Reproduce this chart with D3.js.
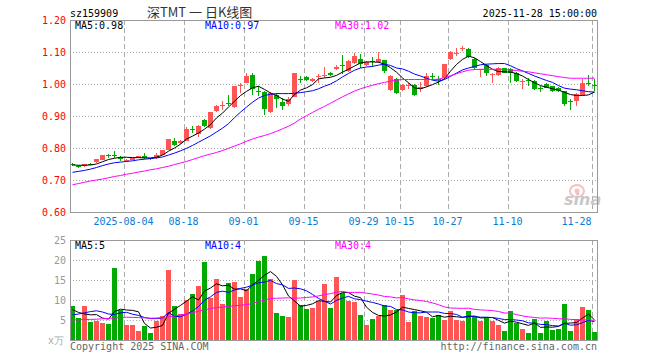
<!DOCTYPE html>
<html>
<head>
<meta charset="utf-8">
<script src="https://cdn.jsdelivr.net/npm/d3@7"></script>
<style>
  body { margin: 0; background: #fff; }
  svg text { font-family: "DejaVu Sans Mono", monospace; font-size: 10px; }
</style>
</head>
<body>
<svg width="660" height="360"></svg>
<script>
// Data =======================================================================

const dates = ["07-22","07-23","07-24","07-25","07-28","07-29","07-30","07-31","08-01",
  "08-04","08-05","08-06","08-07","08-08","08-11","08-12","08-13","08-14","08-15",
  "08-18","08-19","08-20","08-21","08-22","08-25","08-26","08-27","08-28","08-29",
  "09-01","09-02","09-03","09-04","09-05","09-08","09-09","09-10","09-11","09-12",
  "09-15","09-16","09-17","09-18","09-19","09-22","09-23","09-24","09-25","09-26",
  "09-29","09-30","10-09","10-10","10-13","10-14","10-15","10-16","10-17","10-20",
  "10-21","10-22","10-23","10-24","10-27","10-28","10-29","10-30","10-31","11-03",
  "11-04","11-05","11-06","11-07","11-10","11-11","11-12","11-13","11-14","11-17",
  "11-18","11-19","11-20","11-21","11-24","11-25","11-26","11-27","11-28"];

const open = [0.749,0.744,0.745,0.751,0.755,0.763,0.779,0.777,0.773,0.760,
  0.764,0.770,0.776,0.768,0.768,0.779,0.795,0.822,0.815,0.823,
  0.859,0.843,0.888,0.862,0.915,0.933,0.942,0.928,0.995,1.004,
  1.027,0.978,0.974,0.912,0.967,0.943,0.936,0.960,1.017,1.021,
  1.009,1.024,1.026,1.035,1.046,1.059,1.040,1.066,1.079,1.058,
  1.071,1.069,1.074,0.980,1.016,0.981,0.994,0.998,0.983,0.993,
  1.026,1.015,1.019,1.077,1.095,1.109,1.110,1.077,1.045,1.058,
  1.029,1.027,1.049,1.048,1.035,1.006,1.013,1.009,0.986,1.000,
  0.993,0.988,0.977,0.947,0.946,0.967,1.002,0.996];
const high = [0.752,0.747,0.750,0.753,0.767,0.779,0.781,0.790,0.775,0.765,
  0.769,0.776,0.783,0.770,0.783,0.794,0.828,0.830,0.825,0.865,
  0.870,0.872,0.890,0.913,0.934,0.948,0.967,0.995,1.004,1.033,
  1.035,0.993,0.977,0.974,0.972,0.957,0.958,1.034,1.025,1.024,
  1.019,1.032,1.054,1.037,1.058,1.090,1.074,1.096,1.093,1.072,
  1.085,1.100,1.076,1.027,1.018,1.000,1.004,1.000,1.007,1.035,
  1.035,1.024,1.064,1.102,1.114,1.119,1.111,1.082,1.048,1.061,
  1.035,1.053,1.051,1.050,1.037,1.015,1.020,1.011,0.994,1.002,
  0.995,0.990,0.979,0.952,0.972,1.016,1.027,1.016];
const low = [0.743,0.738,0.742,0.746,0.753,0.762,0.768,0.770,0.760,0.755,
  0.762,0.768,0.765,0.764,0.766,0.777,0.794,0.807,0.812,0.822,
  0.848,0.835,0.866,0.858,0.913,0.920,0.930,0.926,0.972,1.002,
  0.967,0.962,0.904,0.910,0.925,0.920,0.930,0.958,1.002,1.009,
  1.007,1.004,1.019,1.026,1.043,1.032,1.038,1.064,1.051,1.056,
  1.054,1.067,1.033,0.978,0.968,0.979,0.985,0.963,0.974,0.991,
  1.014,0.998,1.017,1.075,1.087,1.103,1.082,1.043,1.021,1.024,
  1.004,1.025,1.033,1.002,1.007,0.985,0.994,0.981,0.974,0.986,
  0.975,0.975,0.932,0.920,0.930,0.965,0.993,0.977];
const close = [0.747,0.742,0.749,0.749,0.766,0.778,0.777,0.774,0.765,0.764,
  0.768,0.775,0.768,0.766,0.778,0.793,0.827,0.810,0.823,0.860,
  0.857,0.870,0.870,0.912,0.932,0.935,0.940,0.993,0.997,1.025,
  0.983,0.976,0.923,0.972,0.953,0.932,0.953,1.033,1.015,1.012,
  1.017,1.026,1.028,1.028,1.054,1.057,1.072,1.087,1.061,1.070,
  1.069,1.079,1.040,1.025,0.972,0.998,0.996,0.967,0.991,1.025,
  1.024,1.013,1.063,1.100,1.097,1.111,1.084,1.051,1.046,1.035,
  1.031,1.051,1.035,1.035,1.009,1.008,1.011,0.983,0.984,0.988,
  0.977,0.977,0.939,0.945,0.970,1.004,1.001,0.994];

const ma5 = [0.747,0.746,0.746,0.747,0.750,0.757,0.764,0.768,0.771,0.771,
  0.770,0.770,0.769,0.769,0.771,0.778,0.790,0.800,0.812,0.828,
  0.837,0.847,0.859,0.873,0.894,0.909,0.928,0.946,0.964,0.977,
  0.988,0.993,0.983,0.972,0.964,0.953,0.946,0.967,0.981,0.988,
  0.998,1.016,1.019,1.021,1.027,1.037,1.046,1.056,1.066,1.069,
  1.069,1.068,1.062,1.051,1.037,1.019,1.004,0.988,0.985,0.991,
  0.998,1.006,1.016,1.040,1.061,1.077,1.087,1.082,1.070,1.058,
  1.046,1.039,1.038,1.037,1.033,1.025,1.014,1.004,0.995,0.990,
  0.985,0.981,0.974,0.967,0.964,0.964,0.966,0.975];
const ma10 = [0.724,0.727,0.730,0.734,0.739,0.745,0.750,0.754,0.756,0.758,
  0.760,0.763,0.765,0.767,0.769,0.772,0.778,0.784,0.791,0.799,
  0.808,0.818,0.828,0.838,0.850,0.862,0.876,0.895,0.912,0.928,
  0.943,0.956,0.964,0.968,0.970,0.970,0.970,0.971,0.973,0.976,
  0.979,0.985,0.993,1.000,1.010,1.022,1.033,1.043,1.050,1.053,
  1.055,1.059,1.062,1.058,1.050,1.047,1.040,1.031,1.025,1.018,
  1.012,1.009,1.014,1.024,1.034,1.044,1.050,1.055,1.060,1.062,
  1.063,1.064,1.064,1.057,1.048,1.041,1.033,1.025,1.018,1.011,
  1.005,0.995,0.987,0.984,0.982,0.979,0.976,0.975];
const ma30 = [0.685,0.689,0.693,0.697,0.700,0.703,0.707,0.711,0.714,0.718,
  0.721,0.725,0.728,0.732,0.735,0.739,0.743,0.748,0.753,0.758,
  0.764,0.770,0.776,0.781,0.786,0.792,0.799,0.806,0.813,0.821,
  0.828,0.834,0.839,0.845,0.852,0.860,0.868,0.878,0.891,0.901,
  0.911,0.921,0.930,0.940,0.950,0.960,0.969,0.978,0.985,0.991,
  0.996,1.001,1.005,1.009,1.012,1.014,1.014,1.014,1.014,1.014,
  1.014,1.015,1.020,1.026,1.032,1.038,1.043,1.045,1.046,1.046,
  1.046,1.046,1.045,1.044,1.042,1.040,1.038,1.035,1.032,1.029,
  1.026,1.023,1.020,1.018,1.018,1.018,1.018,1.018];

// volume, in 万
const volume = [8.5,5.4,8.5,4.5,4.8,4.25,4.0,18.0,7.5,3.75,
  3.75,2.25,3.5,1.7,4.75,6.0,17.5,8.5,6.5,10.0,
  11.5,13.5,19.5,10.5,15.25,9.0,14.3,14.6,10.75,12.75,
  16.5,19.8,21.1,15.25,6.8,6.0,5.75,15.0,8.75,7.7,
  8.0,9.8,14.0,8.0,15.75,11.8,9.75,9.5,6.25,3.75,
  5.25,6.0,8.75,7.5,7.5,11.25,4.5,7.25,6.0,5.75,
  5.5,6.25,5.0,7.25,5.0,4.75,7.25,5.75,4.75,5.6,
  4.75,3.75,2.25,7.25,4.25,2.75,1.75,5.25,1.75,4.75,
  2.5,2.75,9.0,2.25,5.25,8.25,7.5,2.0];
const vma5 = [7.6,6.9,6.5,6.3,6.34,5.49,5.21,7.11,7.71,7.5,
  7.4,7.05,4.15,2.99,3.19,3.64,6.69,7.69,8.65,9.7,
  10.8,10.0,12.2,13.0,14.05,13.55,13.7,12.7,12.8,12.3,
  13.8,14.9,16.2,17.1,15.9,13.8,11.0,9.76,8.46,8.64,
  9.04,9.85,9.65,9.5,11.1,11.9,11.86,10.96,10.6,8.2,
  6.9,6.15,6.0,6.25,7.0,8.2,7.9,7.6,7.3,6.95,
  5.8,6.15,5.7,5.95,5.8,5.65,5.85,6.0,5.5,5.62,
  5.62,4.92,4.22,4.72,4.45,4.05,3.65,4.25,3.15,3.25,
  3.2,3.4,4.15,4.25,4.35,5.5,6.45,5.05];
const vma10 = [6.25,6.5,6.8,7.1,7.3,7.0,6.5,6.4,6.8,6.92,
  6.45,6.13,5.63,5.35,5.35,5.52,6.87,5.92,5.82,6.45,
  7.22,8.35,9.95,10.8,11.9,12.2,11.9,12.5,12.9,13.2,
  13.7,14.3,14.5,14.9,14.1,13.8,12.9,13.0,12.8,12.3,
  11.4,10.4,9.7,9.0,9.9,10.5,10.9,10.3,10.1,9.7,
  9.4,9.0,8.5,8.4,7.6,7.55,7.0,6.8,6.8,7.0,
  7.0,7.0,6.65,6.6,6.4,5.7,6.0,5.85,5.7,5.7,
  5.6,5.4,5.1,5.1,5.0,4.8,4.3,4.2,3.9,3.85,
  3.6,3.5,4.2,3.7,3.8,4.35,4.9,4.6];
const vma30 = [5.0,5.05,5.1,5.15,5.2,5.3,5.4,5.5,5.6,5.7,
  5.65,5.6,5.55,5.45,5.5,5.6,5.8,6.0,6.25,6.5,
  6.8,7.2,7.6,7.85,8.1,8.25,8.4,8.55,8.7,8.84,
  9.11,9.59,10.01,10.37,10.44,10.49,10.55,10.45,10.49,10.63,
  10.77,11.02,11.37,11.58,11.95,12.14,11.88,11.91,11.9,11.7,
  11.49,11.24,10.88,10.78,10.52,10.6,10.27,10.03,9.87,9.63,
  9.27,8.82,8.28,8.01,7.95,7.91,7.96,7.65,7.52,7.45,
  7.34,7.14,6.75,6.72,6.34,6.04,5.77,5.63,5.48,5.51,
  5.42,5.31,5.32,5.15,5.07,4.97,5.07,4.9];

const tickDates = ["08-04","08-18","09-01","09-15","09-29","10-15","10-27","11-10","11-28"];
const tickLabels = ["2025-08-04","08-18","09-01","09-15","09-29","10-15","10-27","11-10","11-28"];
const priceTicks = [0.6,0.7,0.8,0.9,1.0,1.1,1.2];
const volTicks = [5,10,15,20,25];
const maLabels = ["MA5:0.98","MA10:0.97","MA30:1.02"];
const vmaLabels = ["MA5:5","MA10:4","MA30:4"];

// Layout =====================================================================

const left = 70, right = 597;
const pTop = 20, pBottom = 212;     // price panel
const vTop = 240, vBottom = 340;    // volume panel
const RED = "#f55", GREEN = "#0a0", GRID = "#aaa";
const maColors = ["#000", "#00f", "#f0f"];

const svg = d3.select("svg");

const x = d3.scaleBand().domain(dates).range([left, right]).paddingInner(1 / 6).paddingOuter(0);
const y = d3.scaleLinear().domain([0.6, 1.2]).range([pBottom, pTop]);
const yv = d3.scaleLinear().domain([0, 25]).range([vBottom, vTop]);

// Header =====================================================================

svg.append("text").attr("x", left).attr("y", 17).text("sz159909");
svg.append("text").attr("x", 147).attr("y", 17)
  .style("font-family", "'Noto Sans CJK SC', sans-serif").style("font-size", "13px")
  .attr("fill", "#333").text("深TMT 一 日K线图");
svg.append("text").attr("x", right).attr("y", 17).attr("text-anchor", "end")
  .text("2025-11-28 15:00:00");

// Grids ======================================================================

function panelGrid(y0, y1, hVals, scale) {
  svg.append("g").selectAll("line").data(hVals).enter().append("line")
    .attr("x1", left).attr("x2", right)
    .attr("y1", d => Math.round(scale(d)) + 0.5).attr("y2", d => Math.round(scale(d)) + 0.5)
    .attr("stroke", GRID).attr("stroke-dasharray", "1,2");
  svg.append("g").selectAll("line").data(tickDates).enter().append("line")
    .attr("x1", d => x(d) + 0.5).attr("x2", d => x(d) + 0.5)
    .attr("y1", y0).attr("y2", y1)
    .attr("stroke", GRID).attr("stroke-dasharray", "5,3");
}
panelGrid(pTop, pBottom, [0.7, 0.8, 0.9, 1.0, 1.1], y);
panelGrid(vTop, vBottom, [5, 10, 15, 20], yv);

// Candles ====================================================================

const idx = d3.range(dates.length);
const up = i => close[i] >= open[i];

const candles = svg.append("g").attr("shape-rendering", "crispEdges");
candles.selectAll(".wick").data(idx).enter().append("rect")
  .attr("x", i => x(dates[i]) + 2).attr("width", 1)
  .attr("y", i => Math.round(y(high[i])))
  .attr("height", i => Math.max(1, Math.round(y(low[i])) - Math.round(y(high[i]))))
  .attr("fill", i => up(i) ? RED : GREEN);
candles.selectAll(".body").data(idx).enter().append("rect")
  .attr("x", i => x(dates[i])).attr("width", x.bandwidth())
  .attr("y", i => Math.round(y(Math.max(open[i], close[i]))))
  .attr("height", i => Math.max(1, Math.round(y(Math.min(open[i], close[i]))) - Math.round(y(Math.max(open[i], close[i])))))
  .attr("fill", i => up(i) ? RED : GREEN);

// Volume bars
svg.append("g").attr("shape-rendering", "crispEdges")
  .selectAll("rect").data(idx).enter().append("rect")
  .attr("x", i => x(dates[i])).attr("width", x.bandwidth())
  .attr("y", i => Math.round(yv(volume[i])))
  .attr("height", i => vBottom - Math.round(yv(volume[i])))
  .attr("fill", i => up(i) ? RED : GREEN);

// Moving averages ============================================================

const cx = i => x(dates[i]) + 2.5;
[ma5, ma10, ma30].forEach((s, k) => {
  svg.append("path").datum(s)
    .attr("d", d3.line().x((d, i) => cx(i)).y(d => y(d)))
    .attr("fill", "none").attr("stroke", maColors[k]).attr("stroke-width", 1);
});
[vma5, vma10, vma30].forEach((s, k) => {
  svg.append("path").datum(s)
    .attr("d", d3.line().x((d, i) => cx(i)).y(d => yv(d)))
    .attr("fill", "none").attr("stroke", maColors[k]).attr("stroke-width", 1);
});

// Sina watermark
const wm = svg.append("g").attr("transform", "translate(564,184)");
wm.append("ellipse").attr("cx", 13).attr("cy", 7).attr("rx", 7).attr("ry", 6)
  .attr("fill", "none").attr("stroke", "#f5c0c0").attr("stroke-width", 2);
wm.append("circle").attr("cx", 13).attr("cy", 7).attr("r", 2.5).attr("fill", "#f5c0c0");
wm.append("text").attr("x", 0).attr("y", 21)
  .style("font-family", "'DejaVu Sans', sans-serif").style("font-size", "16px")
  .style("font-style", "italic").style("font-weight", "bold")
  .attr("fill", "#c8c8c8").text("sina");

// Frames =====================================================================

svg.append("rect").attr("x", left + 0.5).attr("y", pTop + 0.5)
  .attr("width", right - left).attr("height", pBottom - pTop)
  .attr("fill", "none").attr("stroke", "#999");
svg.append("rect").attr("x", left + 0.5).attr("y", vTop + 0.5)
  .attr("width", right - left).attr("height", vBottom - vTop)
  .attr("fill", "none").attr("stroke", "#999");

// Axes =======================================================================

function styleAxis(g, color) {
  g.select(".domain").remove();
  g.selectAll("text").attr("fill", color)
    .style("font-family", "'DejaVu Sans Mono', monospace").style("font-size", "10px");
}

svg.append("g").attr("transform", `translate(${left},0)`)
  .call(d3.axisLeft(y).tickValues(priceTicks).tickFormat(d3.format(".2f")).tickSize(0).tickPadding(4))
  .call(g => styleAxis(g, "#f00"));

svg.append("g").attr("transform", `translate(${left},0)`)
  .call(d3.axisLeft(yv).tickValues(volTicks).tickSize(0).tickPadding(4))
  .call(g => styleAxis(g, "#999"));

svg.append("g").attr("transform", `translate(-3,${pBottom})`)
  .call(d3.axisBottom(x).tickValues(tickDates)
    .tickFormat(d => tickLabels[tickDates.indexOf(d)]).tickSize(0).tickPadding(6))
  .call(g => styleAxis(g, "#0a7ad6"))
  // last label is pushed inside the frame
  .call(g => g.selectAll(".tick:last-of-type text").attr("text-anchor", "end"));

svg.append("text").attr("x", 64).attr("y", 344).attr("text-anchor", "end")
  .attr("fill", "#aaa").text("x万");

// MA legends
const legendX = [75, 205, 335];
maLabels.forEach((t, k) => svg.append("text").attr("x", legendX[k]).attr("y", 29)
  .attr("fill", maColors[k]).text(t));
vmaLabels.forEach((t, k) => svg.append("text").attr("x", legendX[k]).attr("y", 249)
  .attr("fill", maColors[k]).text(t));

// Footer
svg.append("text").attr("x", left).attr("y", 350).attr("fill", "#666")
  .text("Copyright 2025 SINA.COM");
svg.append("text").attr("x", right).attr("y", 350).attr("text-anchor", "end")
  .attr("fill", "#666").text("http://finance.sina.com.cn");
</script>
</body>
</html>
